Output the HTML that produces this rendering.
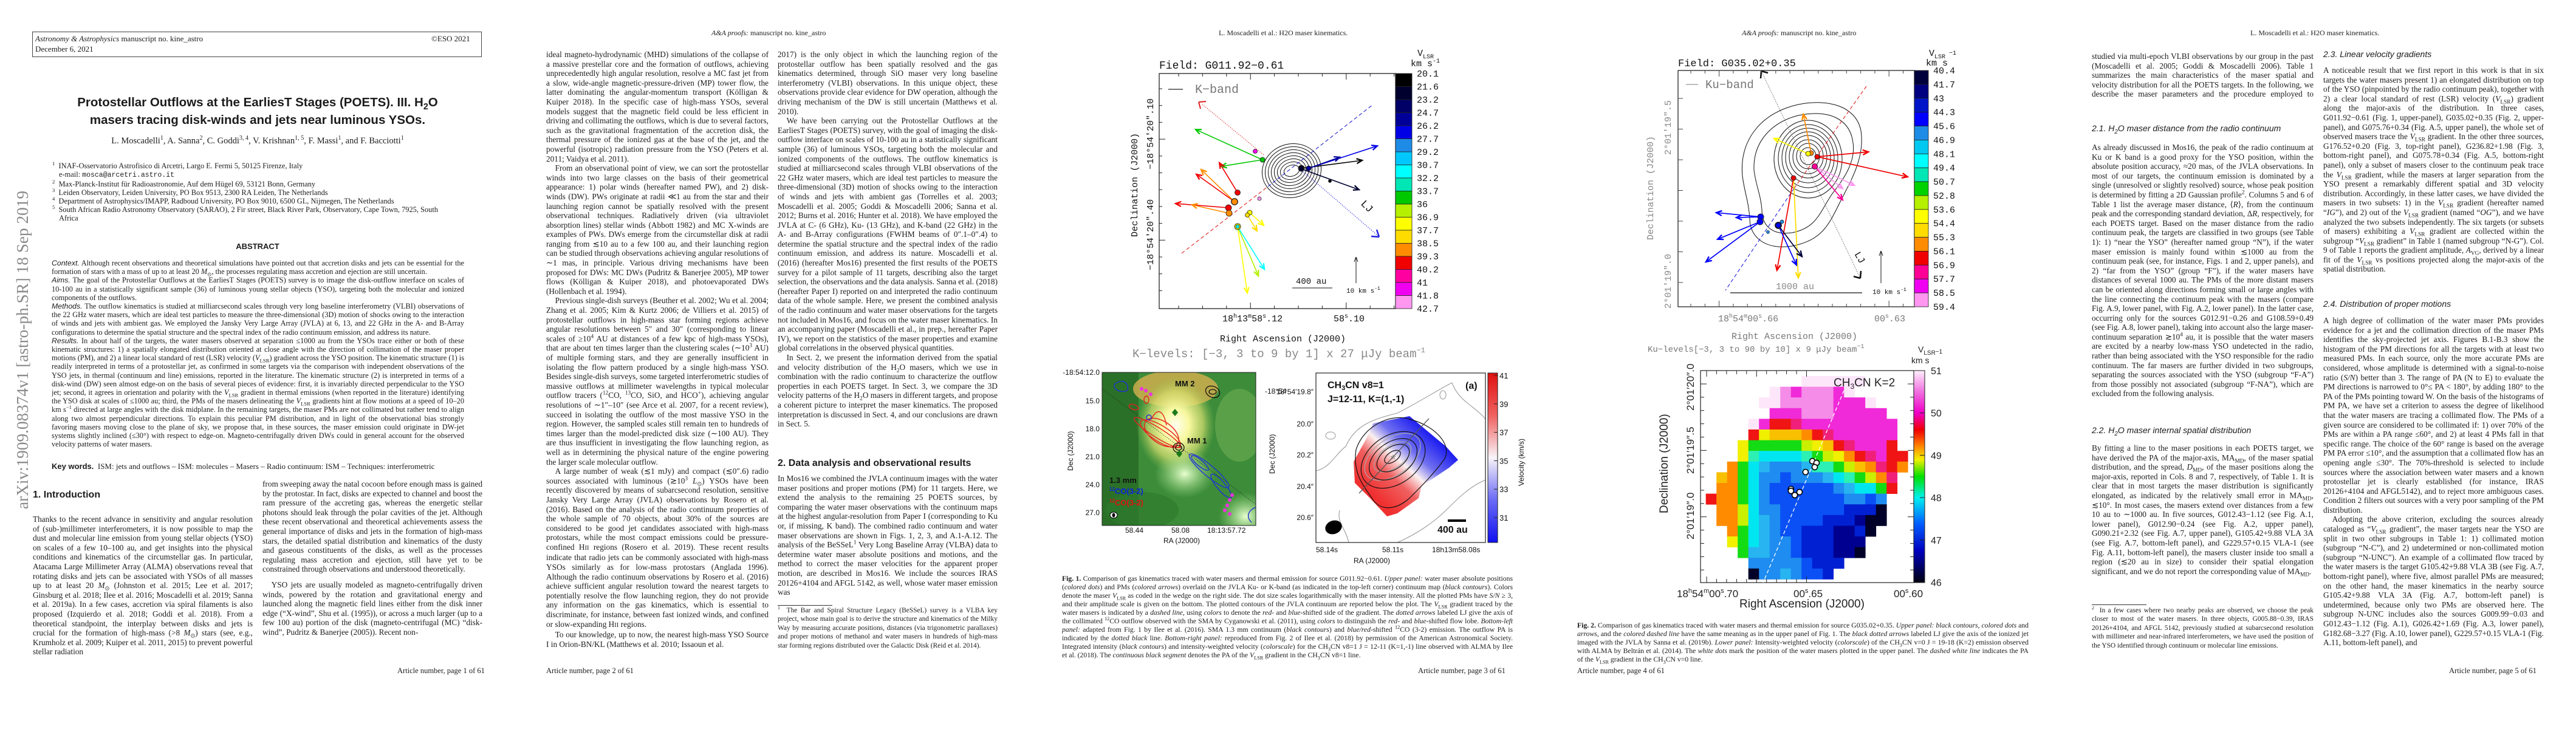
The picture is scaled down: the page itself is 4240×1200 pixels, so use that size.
<!DOCTYPE html>
<html lang="en">
<head>
<meta charset="utf-8">
<style>
html,body{margin:0;padding:0}
body{width:4240px;height:1200px;position:relative;background:#fff;overflow:hidden;color:#1c1c1c}
.t{position:absolute;font-family:"Liberation Serif",serif;font-size:13.3px;line-height:15.6px;text-align:justify;overflow:hidden;hyphens:auto;-webkit-hyphens:auto}
.t p{margin:0;text-indent:1.1em}
.t p.ni{text-indent:0}
.cap{position:absolute;font-family:"Liberation Serif",serif;font-size:11.7px;line-height:14px;text-align:justify;overflow:hidden;hyphens:auto}
.sh{position:absolute;font-family:"Liberation Sans",sans-serif;font-size:14px;font-style:italic;white-space:nowrap}
.hd{position:absolute;font-family:"Liberation Sans",sans-serif;font-weight:bold;font-size:16px;white-space:nowrap}
.run{position:absolute;font-family:"Liberation Serif",serif;font-size:12.5px;white-space:nowrap}
.pn{position:absolute;font-family:"Liberation Serif",serif;font-size:12.5px;white-space:nowrap}
.fn{position:absolute;font-family:"Liberation Serif",serif;font-size:11.4px;line-height:14.4px;text-align:justify;overflow:hidden}
.rule{position:absolute;height:1px;background:#333}
sub,sup{font-size:70%;line-height:0}
.sans{font-family:"Liberation Sans",sans-serif}
</style>
</head>
<body>

<!-- ================= PAGE 1 ================= -->
<div style="position:absolute;left:53px;top:52px;width:738px;height:40px;border:1px solid #444"></div>
<div class="run" style="left:58px;top:56px;font-size:13px"><i>Astronomy &amp; Astrophysics</i> manuscript no. kine_astro</div>
<div class="run" style="left:58px;top:73px;font-size:13px">December 6, 2021</div>
<div class="run" style="left:710px;top:56px;font-size:13px">©ESO 2021</div>

<div style="position:absolute;left:54px;top:154px;width:740px;text-align:center;font-family:'Liberation Sans',sans-serif;font-weight:bold;font-size:20.5px;line-height:29px">Protostellar Outflows at the EarliesT Stages (POETS). III. H<sub>2</sub>O<br>masers tracing disk-winds and jets near luminous YSOs.</div>
<div style="position:absolute;left:54px;top:224px;width:740px;text-align:center;font-family:'Liberation Serif',serif;font-size:14.5px">L. Moscadelli<sup>1</sup>, A. Sanna<sup>2</sup>, C. Goddi<sup>3, 4</sup>, V. Krishnan<sup>1, 5</sup>, F. Massi<sup>1</sup>, and F. Bacciotti<sup>1</sup></div>

<div style="position:absolute;left:86px;top:266px;width:680px;font-family:'Liberation Serif',serif;font-size:12.4px;line-height:14px">
<div><sup>1</sup>&nbsp; INAF-Osservatorio Astrofisico di Arcetri, Largo E. Fermi 5, 50125 Firenze, Italy</div>
<div style="padding-left:11px">e-mail: <span style="font-family:'Liberation Mono',monospace;font-size:11.5px">mosca@arcetri.astro.it</span></div>
<div><sup>2</sup>&nbsp; Max-Planck-Institut für Radioastronomie, Auf dem Hügel 69, 53121 Bonn, Germany</div>
<div><sup>3</sup>&nbsp; Leiden Observatory, Leiden University, PO Box 9513, 2300 RA Leiden, The Netherlands</div>
<div><sup>4</sup>&nbsp; Department of Astrophysics/IMAPP, Radboud University, PO Box 9010, 6500 GL, Nijmegen, The Netherlands</div>
<div style="text-align:justify"><sup>5</sup>&nbsp; South African Radio Astronomy Observatory (SARAO), 2 Fir street, Black River Park, Observatory, Cape Town, 7925, South</div>
<div style="padding-left:11px">Africa</div>
</div>

<div style="position:absolute;left:54px;top:398px;width:740px;text-align:center;font-family:'Liberation Sans',sans-serif;font-weight:bold;font-size:13px">ABSTRACT</div>
<div class="t" style="left:85px;top:426px;width:679px;height:328px;font-size:12.3px;line-height:14.2px">
<p class="ni"><i class="sans">Context.</i> Although recent observations and theoretical simulations have pointed out that accretion disks and jets can be essential for the formation of stars with a mass of up to at least 20 <i>M</i><sub>⊙</sub>, the processes regulating mass accretion and ejection are still uncertain.</p>
<p class="ni"><i class="sans">Aims.</i> The goal of the Protostellar Outflows at the EarliesT Stages (POETS) survey is to image the disk-outflow interface on scales of 10-100 au in a statistically significant sample (36) of luminous young stellar objects (YSO), targeting both the molecular and ionized components of the outflows.</p>
<p class="ni"><i class="sans">Methods.</i> The outflow kinematics is studied at milliarcsecond scales through very long baseline interferometry (VLBI) observations of the 22 GHz water masers, which are ideal test particles to measure the three-dimensional (3D) motion of shocks owing to the interaction of winds and jets with ambient gas. We employed the Jansky Very Large Array (JVLA) at 6, 13, and 22 GHz in the A- and B-Array configurations to determine the spatial structure and the spectral index of the radio continuum emission, and address its nature.</p>
<p class="ni"><i class="sans">Results.</i> In about half of the targets, the water masers observed at separation ≤1000 au from the YSOs trace either or both of these kinematic structures: 1) a spatially elongated distribution oriented at close angle with the direction of collimation of the maser proper motions (PM), and 2) a linear local standard of rest (LSR) velocity (<i>V</i><sub>LSR</sub>) gradient across the YSO position. The kinematic structure (1) is readily interpreted in terms of a protostellar jet, as confirmed in some targets via the comparison with independent observations of the YSO jets, in thermal (continuum and line) emissions, reported in the literature. The kinematic structure (2) is interpreted in terms of a disk-wind (DW) seen almost edge-on on the basis of several pieces of evidence: first, it is invariably directed perpendicular to the YSO jet; second, it agrees in orientation and polarity with the <i>V</i><sub>LSR</sub> gradient in thermal emissions (when reported in the literature) identifying the YSO disk at scales of ≤1000 au; third, the PMs of the masers delineating the <i>V</i><sub>LSR</sub> gradients hint at flow motions at a speed of 10–20 km s<sup>−1</sup> directed at large angles with the disk midplane. In the remaining targets, the maser PMs are not collimated but rather tend to align along two almost perpendicular directions. To explain this peculiar PM distribution, and in light of the observational bias strongly favoring masers moving close to the plane of sky, we propose that, in these sources, the maser emission could originate in DW-jet systems slightly inclined (≤30°) with respect to edge-on. Magneto-centrifugally driven DWs could in general account for the observed velocity patterns of water masers.</p>
</div>
<div style="position:absolute;left:85px;top:760px;font-family:'Liberation Serif',serif;font-size:13px;white-space:nowrap"><b class="sans">Key words.</b>&nbsp; ISM: jets and outflows – ISM: molecules – Masers – Radio continuum: ISM – Techniques: interferometric</div>

<div class="hd" style="left:54px;top:806px">1. Introduction</div>
<div class="t" style="left:54px;top:847px;width:362px;height:236px">
<p class="ni">Thanks to the recent advance in sensitivity and angular resolution of (sub-)millimeter interferometers, it is now possible to map the dust and molecular line emission from young stellar objects (YSO) on scales of a few 10–100 au, and get insights into the physical conditions and kinematics of the circumstellar gas. In particular, Atacama Large Millimeter Array (ALMA) observations reveal that rotating disks and jets can be associated with YSOs of all masses up to at least 20 <i>M</i><sub>⊙</sub> (Johnston et al. 2015; Lee et al. 2017; Ginsburg et al. 2018; Ilee et al. 2016; Moscadelli et al. 2019; Sanna et al. 2019a). In a few cases, accretion via spiral filaments is also proposed (Izquierdo et al. 2018; Goddi et al. 2018). From a theoretical standpoint, the interplay between disks and jets is crucial for the formation of high-mass (&gt;8 <i>M</i><sub>⊙</sub>) stars (see, e.g., Krumholz et al. 2009; Kuiper et al. 2011, 2015) to prevent powerful stellar radiation</p>
</div>
<div class="t" style="left:432px;top:789px;width:362px;height:298px">
<p class="ni">from sweeping away the natal cocoon before enough mass is gained by the protostar. In fact, disks are expected to channel and boost the ram pressure of the accreting gas, whereas the energetic stellar photons should leak through the polar cavities of the jet. Although these recent observational and theoretical achievements assess the general importance of disks and jets in the formation of high-mass stars, the detailed spatial distribution and kinematics of the dusty and gaseous constituents of the disks, as well as the processes regulating mass accretion and ejection, still have yet to be constrained through observations and understood theoretically.</p>
<p style="margin-top:10px">YSO jets are usually modeled as magneto-centrifugally driven winds, powered by the rotation and gravitational energy and launched along the magnetic field lines either from the disk inner edge (“X-wind”, Shu et al. (1995)), or across a much larger (up to a few 100 au) portion of the disk (magneto-centrifugal (MC) “disk-wind”, Pudritz &amp; Banerjee (2005)). Recent non-</p>
</div>
<div class="pn" style="left:654px;top:1097px">Article number, page 1 of 61</div>

<!-- ================= PAGE 2 ================= -->
<div class="run" style="left:1171px;top:47px;font-size:12px"><i>A&amp;A proofs:</i> manuscript no. kine_astro</div>
<div class="t" style="left:899px;top:82px;width:366px;height:1001px">
<p class="ni">ideal magneto-hydrodynamic (MHD) simulations of the collapse of a massive prestellar core and the formation of outflows, achieving unprecedentedly high angular resolution, resolve a MC fast jet from a slow, wide-angle magnetic-pressure-driven (MP) tower flow, the latter dominating the angular-momentum transport (Kölligan &amp; Kuiper 2018). In the specific case of high-mass YSOs, several models suggest that the magnetic field could be less efficient in driving and collimating the outflows, which is due to several factors, such as the gravitational fragmentation of the accretion disk, the thermal pressure of the ionized gas at the base of the jet, and the powerful (isotropic) radiation pressure from the YSO (Peters et al. 2011; Vaidya et al. 2011).</p>
<p>From an observational point of view, we can sort the protostellar winds into two large classes on the basis of their geometrical appearance: 1) polar winds (hereafter named PW), and 2) disk-winds (DW). PWs originate at radii ≪1 au from the star and their launching region cannot be spatially resolved with the present observational techniques. Radiatively driven (via ultraviolet absorption lines) stellar winds (Abbott 1982) and MC X-winds are examples of PWs. DWs emerge from the circumstellar disk at radii ranging from ≲10 au to a few 100 au, and their launching region can be studied through observations achieving angular resolutions of ∼1 mas, in principle. Various driving mechanisms have been proposed for DWs: MC DWs (Pudritz &amp; Banerjee 2005), MP tower flows (Kölligan &amp; Kuiper 2018), and photoevaporated DWs (Hollenbach et al. 1994).</p>
<p>Previous single-dish surveys (Beuther et al. 2002; Wu et al. 2004; Zhang et al. 2005; Kim &amp; Kurtz 2006; de Villiers et al. 2015) of protostellar outflows in high-mass star forming regions achieve angular resolutions between 5″ and 30″ (corresponding to linear scales of ≥10<sup>4</sup> AU at distances of a few kpc of high-mass YSOs), that are about ten times larger than the clustering scales (∼10<sup>3</sup> AU) of multiple forming stars, and they are generally insufficient in isolating the flow pattern produced by a single high-mass YSO. Besides single-dish surveys, some targeted interferometric studies of massive outflows at millimeter wavelengths in typical molecular outflow tracers (<sup>12</sup>CO, <sup>13</sup>CO, SiO, and HCO<sup>+</sup>), achieving angular resolutions of ∼1″–10″ (see Arce et al. 2007, for a recent review), succeed in isolating the outflow of the most massive YSO in the region. However, the sampled scales still remain ten to hundreds of times larger than the model-predicted disk size (∼100 AU). They are thus insufficient in investigating the flow launching region, as well as in determining the physical nature of the engine powering the larger scale molecular outflow.</p>
<p>A large number of weak (≲1 mJy) and compact (≲0″.6) radio sources associated with luminous (≳10<sup>3</sup> <i>L</i><sub>⊙</sub>) YSOs have been recently discovered by means of subarcsecond resolution, sensitive Jansky Very Large Array (JVLA) observations by Rosero et al. (2016). Based on the analysis of the radio continuum properties of the whole sample of 70 objects, about 30% of the sources are considered to be good jet candidates associated with high-mass protostars, while the most compact emissions could be pressure-confined H<span style="font-size:80%">II</span> regions (Rosero et al. 2019). These recent results indicate that radio jets can be commonly associated with high-mass YSOs similarly as for low-mass protostars (Anglada 1996). Although the radio continuum observations by Rosero et al. (2016) achieve sufficient angular resolution toward the nearest targets to potentially resolve the flow launching region, they do not provide any information on the gas kinematics, which is essential to discriminate, for instance, between fast ionized winds, and confined or slow-expanding H<span style="font-size:80%">II</span> regions.</p>
<p>To our knowledge, up to now, the nearest high-mass YSO Source I in Orion-BN/KL (Matthews et al. 2010; Issaoun et al.</p>
</div>
<div class="t" style="left:1280px;top:82px;width:362px;height:642px">
<p class="ni">2017) is the only object in which the launching region of the protostellar outflow has been spatially resolved and the gas kinematics determined, through SiO maser very long baseline interferometry (VLBI) observations. In this unique object, these observations provide clear evidence for DW operation, although the driving mechanism of the DW is still uncertain (Matthews et al. 2010).</p>
<p>We have been carrying out the Protostellar Outflows at the EarliesT Stages (POETS) survey, with the goal of imaging the disk-outflow interface on scales of 10-100 au in a statistically significant sample (36) of luminous YSOs, targeting both the molecular and ionized components of the outflows. The outflow kinematics is studied at milliarcsecond scales through VLBI observations of the 22 GHz water masers, which are ideal test particles to measure the three-dimensional (3D) motion of shocks owing to the interaction of winds and jets with ambient gas (Torrelles et al. 2003; Moscadelli et al. 2005; Goddi &amp; Moscadelli 2006; Sanna et al. 2012; Burns et al. 2016; Hunter et al. 2018). We have employed the JVLA at C- (6 GHz), Ku- (13 GHz), and K-band (22 GHz) in the A- and B-Array configurations (FWHM beams of 0″.1–0″.4) to determine the spatial structure and the spectral index of the radio continuum emission, and address its nature. Moscadelli et al. (2016) (hereafter Mos16) presented the first results of the POETS survey for a pilot sample of 11 targets, describing also the target selection, the observations and the data analysis. Sanna et al. (2018) (hereafter Paper I) reported on and interpreted the radio continuum data of the whole sample. Here, we present the combined analysis of the radio continuum and water maser observations for the targets not included in Mos16, and focus on the water maser kinematics. In an accompanying paper (Moscadelli et al., in prep., hereafter Paper IV), we report on the statistics of the maser properties and examine global correlations in the observed physical quantities.</p>
<p>In Sect. 2, we present the information derived from the spatial and velocity distribution of the H<sub>2</sub>O masers, which we use in combination with the radio continuum to characterize the outflow properties in each POETS target. In Sect. 3, we compare the 3D velocity patterns of the H<sub>2</sub>O masers in different targets, and propose a coherent picture to interpret the maser kinematics. The proposed interpretation is discussed in Sect. 4, and our conclusions are drawn in Sect. 5.</p>
</div>
<div class="hd" style="left:1280px;top:754px">2. Data analysis and observational results</div>
<div class="t" style="left:1280px;top:780px;width:362px;height:205px">
<p class="ni">In Mos16 we combined the JVLA continuum images with the water maser positions and proper motions (PM) for 11 targets. Here, we extend the analysis to the remaining 25 POETS sources, by comparing the water maser observations with the continuum maps at the highest angular-resolution from Paper I (corresponding to Ku or, if missing, K band). The combined radio continuum and water maser observations are shown in Figs. 1, 2, 3, and A.1-A.12. The analysis of the BeSSeL<sup>1</sup> Very Long Baseline Array (VLBA) data to determine water maser absolute positions and motions, and the method to correct the maser velocities for the apparent proper motion, are described in Mos16. We include the sources IRAS 20126+4104 and AFGL 5142, as well, whose water maser emission was</p>
</div>
<div class="rule" style="left:1280px;top:996px;width:90px"></div>
<div class="fn" style="left:1280px;top:998px;width:362px;height:88px"><sup>1</sup>&nbsp; The Bar and Spiral Structure Legacy (BeSSeL) survey is a VLBA key project, whose main goal is to derive the structure and kinematics of the Milky Way by measuring accurate positions, distances (via trigonometric parallaxes) and proper motions of methanol and water masers in hundreds of high-mass star forming regions distributed over the Galactic Disk (Reid et al. 2014).</div>
<div class="pn" style="left:899px;top:1097px">Article number, page 2 of 61</div>

<!-- ================= PAGE 3 ================= -->
<div class="run" style="left:2006px;top:47px;font-size:12px">L. Moscadelli et al.: H2O maser kinematics.</div>
<div class="cap" style="left:1748px;top:946px;width:742px;height:142px"><b>Fig. 1.</b> Comparison of gas kinematics traced with water masers and thermal emission for source G011.92−0.61. <i>Upper panel:</i> water maser absolute positions (<i>colored dots</i>) and PMs (<i>colored arrows</i>) overlaid on the JVLA Ku- or K-band (as indicated in the top-left corner) continuum map (<i>black contours</i>). Colors denote the maser <i>V</i><sub>LSR</sub> as coded in the wedge on the right side. The dot size scales logarithmically with the maser intensity. All the plotted PMs have <i>S/N</i> ≥ 3, and their amplitude scale is given on the bottom. The plotted contours of the JVLA continuum are reported below the plot. The <i>V</i><sub>LSR</sub> gradient traced by the water masers is indicated by a <i>dashed line</i>, using <i>colors</i> to denote the <i>red-</i> and <i>blue</i>-shifted side of the gradient. The <i>dotted arrows</i> labeled LJ give the axis of the collimated <sup>12</sup>CO outflow observed with the SMA by Cyganowski et al. (2011), using <i>colors</i> to distinguish the <i>red-</i> and <i>blue</i>-shifted flow lobe. <i>Bottom-left panel:</i> adapted from Fig. 1 by Ilee et al. (2016). SMA 1.3 mm continuum (<i>black contours</i>) and <i>blue/red</i>-shifted <sup>12</sup>CO (3-2) emission. The outflow PA is indicated by the <i>dotted black</i> line. <i>Bottom-right panel:</i> reproduced from Fig. 2 of Ilee et al. (2018) by permission of the American Astronomical Society. Integrated intensity (<i>black contours</i>) and intensity-weighted velocity (<i>colorscale</i>) for the CH<sub>3</sub>CN v8=1 J = 12-11 (K=1,-1) line observed with ALMA by Ilee et al. (2018). The <i>continuous black segment</i> denotes the PA of the <i>V</i><sub>LSR</sub> gradient in the CH<sub>3</sub>CN v8=1 line.</div>
<div class="pn" style="left:2334px;top:1097px">Article number, page 3 of 61</div>

<!-- ================= PAGE 4 ================= -->
<div class="run" style="left:2867px;top:47px;font-size:12px"><i>A&amp;A proofs:</i> manuscript no. kine_astro</div>
<div class="cap" style="left:2596px;top:1023px;width:743px;height:72px"><b>Fig. 2.</b> Comparison of gas kinematics traced with water masers and thermal emission for source G035.02+0.35. <i>Upper panel:</i> <i>black contours</i>, <i>colored dots</i> and <i>arrows</i>, and the <i>colored dashed line</i> have the same meaning as in the upper panel of Fig. 1. The <i>black dotted arrows</i> labeled LJ give the axis of the ionized jet imaged with the JVLA by Sanna et al. (2019b). <i>Lower panel:</i> Intensity-weighted velocity (<i>colorscale</i>) of the CH<sub>3</sub>CN v=0 J = 19-18 (K=2) emission observed with ALMA by Beltrán et al. (2014). The <i>white dots</i> mark the position of the water masers plotted in the upper panel. The <i>dashed white line</i> indicates the PA of the <i>V</i><sub>LSR</sub> gradient in the CH<sub>3</sub>CN v=0 line.</div>
<div class="pn" style="left:2596px;top:1097px">Article number, page 4 of 61</div>

<!-- ================= PAGE 5 ================= -->
<div class="run" style="left:3704px;top:47px;font-size:12px">L. Moscadelli et al.: H2O maser kinematics.</div>
<div class="t" style="left:3443px;top:85px;width:365px;height:80px">
<p class="ni">studied via multi-epoch VLBI observations by our group in the past (Moscadelli et al. 2005; Goddi &amp; Moscadelli 2006). Table 1 summarizes the main characteristics of the maser spatial and velocity distribution for all the POETS targets. In the following, we describe the maser parameters and the procedure employed to derive them.</p>
</div>
<div class="sh" style="left:3443px;top:203px">2.1. H<sub>2</sub>O maser distance from the radio continuum</div>
<div class="t" style="left:3443px;top:235px;width:365px;height:437px">
<p class="ni">As already discussed in Mos16, the peak of the radio continuum at Ku or K band is a good proxy for the YSO position, within the absolute position accuracy, ≈20 mas, of the JVLA observations. In most of our targets, the continuum emission is dominated by a single (unresolved or slightly resolved) source, whose peak position is determined by fitting a 2D Gaussian profile<sup>2</sup>. Columns 5 and 6 of Table 1 list the average maser distance, ⟨<i>R</i>⟩, from the continuum peak and the corresponding standard deviation, Δ<i>R</i>, respectively, for each POETS target. Based on the maser distance from the radio continuum peak, the targets are classified in two groups (see Table 1): 1) “near the YSO” (hereafter named group “N”), if the water maser emission is mainly found within ≲1000 au from the continuum peak (see, for instance, Figs. 1 and 2, upper panels), and 2) “far from the YSO” (group “F”), if the water masers have distances of several 1000 au. The PMs of the more distant masers can be oriented along directions forming small or large angles with the line connecting the continuum peak with the masers (compare Fig. A.9, lower panel, with Fig. A.2, lower panel). In the latter case, occurring only for the sources G012.91−0.26 and G108.59+0.49 (see Fig. A.8, lower panel), taking into account also the large maser-continuum separation ≳10<sup>4</sup> au, it is possible that the water masers are excited by a nearby low-mass YSO undetected in the radio, rather than being associated with the YSO responsible for the radio continuum. The far masers are further divided in two subgroups, separating the sources associated with the YSO (subgroup “F-A”) from those possibly not associated (subgroup “F-NA”), which are excluded from the following analysis.</p>
</div>
<div class="sh" style="left:3443px;top:700px">2.2. H<sub>2</sub>O maser internal spatial distribution</div>
<div class="t" style="left:3443px;top:730px;width:365px;height:251px">
<p class="ni">By fitting a line to the maser positions in each POETS target, we have derived the PA of the major-axis, MA<sub>MD</sub>, of the maser spatial distribution, and the spread, <i>D</i><sub>MD</sub>, of the maser positions along the major-axis, reported in Cols. 8 and 7, respectively, of Table 1. It is clear that in most targets the maser distribution is significantly elongated, as indicated by the relatively small error in MA<sub>MD</sub>, ≲10°. In most cases, the masers extend over distances from a few 10 au to ∼1000 au. In five sources, G012.43−1.12 (see Fig. A.1, lower panel), G012.90−0.24 (see Fig. A.2, upper panel), G090.21+2.32 (see Fig. A.7, upper panel), G105.42+9.88 VLA 3A (see Fig. A.7, bottom-left panel), and G229.57+0.15 VLA-1 (see Fig. A.11, bottom-left panel), the masers cluster inside too small a region (≲20 au in size) to consider their spatial elongation significant, and we do not report the corresponding value of MA<sub>MD</sub>.</p>
</div>
<div class="rule" style="left:3443px;top:995px;width:90px"></div>
<div class="fn" style="left:3443px;top:998px;width:365px;height:88px"><sup>2</sup>&nbsp; In a few cases where two nearby peaks are observed, we choose the peak closer to most of the water masers. In three objects, G005.88−0.39, IRAS 20126+4104, and AFGL 5142, previously studied at subarcsecond resolution with millimeter and near-infrared interferometers, we have used the position of the YSO identified through continuum or molecular line emissions.</div>
<div class="sh" style="left:3824px;top:81px">2.3. Linear velocity gradients</div>
<div class="t" style="left:3824px;top:108px;width:363px;height:359px">
<p class="ni">A noticeable result that we first report in this work is that in six targets the water masers present 1) an elongated distribution on top of the YSO (pinpointed by the radio continuum peak), together with 2) a clear local standard of rest (LSR) velocity (<i>V</i><sub>LSR</sub>) gradient along the major-axis of the distribution. In three cases, G011.92−0.61 (Fig. 1, upper-panel), G035.02+0.35 (Fig. 2, upper-panel), and G075.76+0.34 (Fig. A.5, upper panel), the whole set of observed masers trace the <i>V</i><sub>LSR</sub> gradient. In the other three sources, G176.52+0.20 (Fig. 3, top-right panel), G236.82+1.98 (Fig. 3, bottom-right panel), and G075.78+0.34 (Fig. A.5, bottom-right panel), only a subset of masers closer to the continuum peak trace the <i>V</i><sub>LSR</sub> gradient, while the masers at larger separation from the YSO present a remarkably different spatial and 3D velocity distribution. Accordingly, in these latter cases, we have divided the masers in two subsets: 1) in the <i>V</i><sub>LSR</sub> gradient (hereafter named “<i>IG</i>”), and 2) out of the <i>V</i><sub>LSR</sub> gradient (named “<i>OG</i>”), and we have analyzed the two subsets independently. The six targets (or subsets of masers) exhibiting a <i>V</i><sub>LSR</sub> gradient are collected within the subgroup “<i>V</i><sub>LSR</sub> gradient” in Table 1 (named subgroup “N-G”). Col. 9 of Table 1 reports the gradient amplitude, <i>A</i><sub>VG</sub>, derived by a linear fit of the <i>V</i><sub>LSR</sub> vs positions projected along the major-axis of the spatial distribution.</p>
</div>
<div class="sh" style="left:3824px;top:492px">2.4. Distribution of proper motions</div>
<div class="t" style="left:3824px;top:520px;width:363px;height:563px">
<p class="ni">A high degree of collimation of the water maser PMs provides evidence for a jet and the collimation direction of the maser PMs identifies the sky-projected jet axis. Figures B.1-B.3 show the histogram of the PM directions for all the targets with at least two measured PMs. In each source, only the more accurate PMs are considered, whose amplitude is determined with a signal-to-noise ratio (<i>S/N</i>) better than 3. The range of PA (N to E) to evaluate the PM directions is narrowed to 0°≤ PA &lt; 180°, by adding 180° to the PA of the PMs pointing toward W. On the basis of the histograms of PM PA, we have set a criterion to assess the degree of likelihood that the water masers are tracing a collimated flow. The PMs of a given source are considered to be collimated if: 1) over 70% of the PMs are within a PA range ≤60°, and 2) at least 4 PMs fall in that specific range. The choice of the 60° range is based on the average PM PA error ≤10°, and the assumption that a collimated flow has an opening angle ≤30°. The 70%-threshold is selected to include sources where the association between water masers and a known protostellar jet is clearly established (for instance, IRAS 20126+4104 and AFGL5142), and to reject more ambiguous cases. Condition 2 filters out sources with a very poor sampling of the PM distribution.</p>
<p>Adopting the above criterion, excluding the sources already cataloged as “<i>V</i><sub>LSR</sub> gradient”, the maser targets near the YSO are split in two other subgroups in Table 1: 1) collimated motion (subgroup “N-C”), and 2) undetermined or non-collimated motion (subgroup “N-UNC”). An example of a collimated flow traced by the water masers is the target G105.42+9.88 VLA 3B (see Fig. A.7, bottom-right panel), where five, almost parallel PMs are measured; on the other hand, the maser kinematics in the nearby source G105.42+9.88 VLA 3A (Fig. A.7, bottom-left panel) is undetermined, because only two PMs are observed here. The subgroup N-UNC includes also the sources G009.99−0.03 and G012.43−1.12 (Fig. A.1), G026.42+1.69 (Fig. A.3, lower panel), G182.68−3.27 (Fig. A.10, lower panel), G229.57+0.15 VLA-1 (Fig. A.11, bottom-left panel), and</p>
</div>
<div class="pn" style="left:4031px;top:1097px">Article number, page 5 of 61</div>

<!-- ================= FIGURES (SVG) ================= -->
<svg id="figs" width="4240" height="1200" viewBox="0 0 4240 1200" style="position:absolute;left:0;top:0" font-family="Liberation Mono, monospace">
<defs>
  <linearGradient id="velA" x1="0" y1="0" x2="0" y2="1">
    <stop offset="0" stop-color="#e01010"/><stop offset="0.25" stop-color="#f06060"/><stop offset="0.5" stop-color="#f8f4f8"/><stop offset="0.75" stop-color="#6a6af5"/><stop offset="1" stop-color="#1010f0"/>
  </linearGradient>
  <linearGradient id="velK2" x1="0" y1="0" x2="0" y2="1">
    <stop offset="0" stop-color="#fff0fc"/><stop offset="0.1" stop-color="#f070e0"/><stop offset="0.2" stop-color="#f000c8"/><stop offset="0.28" stop-color="#f00000"/><stop offset="0.36" stop-color="#ff8c00"/><stop offset="0.42" stop-color="#f0f000"/><stop offset="0.5" stop-color="#00e000"/><stop offset="0.6" stop-color="#00f0f0"/><stop offset="0.72" stop-color="#0060ff"/><stop offset="0.85" stop-color="#0000c0"/><stop offset="1" stop-color="#000010"/>
  </linearGradient>
  <linearGradient id="diamondGrad" gradientUnits="userSpaceOnUse" x1="2250" y1="805" x2="2345" y2="700">
    <stop offset="0" stop-color="#f03030"/><stop offset="0.3" stop-color="#f06060"/><stop offset="0.5" stop-color="#fbf0f0"/><stop offset="0.68" stop-color="#7070f0"/><stop offset="1" stop-color="#1515f0"/>
  </linearGradient>
  <radialGradient id="glow" cx="0.5" cy="0.5" r="0.5">
    <stop offset="0" stop-color="#fffff0"/><stop offset="0.35" stop-color="#f8f8a0"/><stop offset="0.7" stop-color="#d8e070" stop-opacity="0.7"/><stop offset="1" stop-color="#90c050" stop-opacity="0"/>
  </radialGradient>
  <radialGradient id="glow2" cx="0.5" cy="0.5" r="0.5">
    <stop offset="0" stop-color="#e8ffd0"/><stop offset="1" stop-color="#a0e080" stop-opacity="0"/>
  </radialGradient>
  <clipPath id="clipMM"><rect x="1814" y="613" width="253" height="252"/></clipPath>
  <clipPath id="clipA"><rect x="2166" y="614" width="279" height="279"/></clipPath>
</defs>

<!-- arXiv stamp -->
<text x="0" y="0" transform="translate(46,838) rotate(-90)" font-family="Liberation Serif, serif" font-size="27" fill="#8a8a8a" textLength="524" lengthAdjust="spacingAndGlyphs">arXiv:1909.08374v1  [astro-ph.SR]  18 Sep 2019</text>

<!-- Fig.1 upper static -->
<g>
  <text x="1908" y="113" font-size="18" fill="#111">Field: G011.92−0.61</text>
  <rect x="1908" y="121" width="389" height="387" fill="none" stroke="#222" stroke-width="1.3"/>
  <line x1="1923" y1="147" x2="1947" y2="147" stroke="#222" stroke-width="1.2"/>
  <text x="1967" y="153" font-size="20" fill="#777">K−band</text>
  <g fill="none" stroke="#111" stroke-width="1">
    <ellipse cx="2126" cy="281" rx="49" ry="44" transform="rotate(-18 2126 281)"/>
    <ellipse cx="2126" cy="281" rx="44" ry="39" transform="rotate(-18 2126 281)"/>
    <ellipse cx="2126" cy="281" rx="39" ry="34" transform="rotate(-18 2126 281)"/>
    <ellipse cx="2126" cy="281" rx="34" ry="29" transform="rotate(-18 2126 281)"/>
    <ellipse cx="2126" cy="281" rx="29" ry="24" transform="rotate(-18 2126 281)"/>
    <ellipse cx="2126" cy="281" rx="24" ry="19" transform="rotate(-18 2126 281)"/>
    <ellipse cx="2126" cy="281" rx="19" ry="14" transform="rotate(-18 2126 281)"/>
    <ellipse cx="2126" cy="281" rx="13" ry="9" transform="rotate(-18 2126 281)"/>
  </g>
  <line x1="1945" y1="417" x2="2087" y2="307" stroke="#e02020" stroke-width="1.1" stroke-dasharray="6,4"/>
  <line x1="2087" y1="307" x2="2260" y2="172" stroke="#2020d0" stroke-width="1.1" stroke-dasharray="6,4"/>
  <line x1="2080" y1="255" x2="1978" y2="171" stroke="#e02020" stroke-width="1" stroke-dasharray="1.5,2"/>
  <path d="M1973,168 l12,-1 M1973,168 l3,11" stroke="#e02020" stroke-width="2" fill="none"/>
  <line x1="2140" y1="278" x2="2268" y2="388" stroke="#2020e0" stroke-width="1" stroke-dasharray="1.5,2"/>
  <path d="M2270,390 l-13,-1 M2270,390 l-4,-12" stroke="#2020e0" stroke-width="2.4" fill="none"/>
  <text x="0" y="0" transform="translate(2239,336) rotate(45)" font-size="17" fill="#111">LJ</text>
  <text x="2133" y="467" font-size="14" fill="#111">400 au</text>
  <line x1="2127" y1="474" x2="2193" y2="474" stroke="#111" stroke-width="1"/>
  <line x1="2232" y1="466" x2="2232" y2="424" stroke="#111" stroke-width="1"/>
  <path d="M2232,423 l-3,8 M2232,423 l3,8" stroke="#111" stroke-width="1"/>
  <text x="2216" y="482" font-size="11" fill="#111">10 km s<tspan dy="-5" font-size="8">-1</tspan></text>
  <text x="2012" y="529" font-size="15" fill="#111">18<tspan dy="-6" font-size="10">h</tspan><tspan dy="6">13</tspan><tspan dy="-6" font-size="10">m</tspan><tspan dy="6">58</tspan><tspan dy="-6" font-size="10">s</tspan><tspan dy="6">.12</tspan></text>
  <text x="2195" y="529" font-size="15" fill="#111">58<tspan dy="-6" font-size="10">s</tspan><tspan dy="6">.10</tspan></text>
  <text x="2008" y="562" font-size="15" fill="#111">Right Ascension (J2000)</text>
  <text x="1864" y="588" font-size="19" fill="#888">K−levels: [−3, 3 to 9 by 1]  x 27 μJy beam<tspan dy="-8" font-size="12">−1</tspan></text>
  <text x="0" y="0" transform="translate(1898,279) rotate(-90)" font-size="15" fill="#111">−18°54′20″.10</text>
  <text x="0" y="0" transform="translate(1898,445) rotate(-90)" font-size="15" fill="#111">−18°54′20″.40</text>
  <text x="0" y="0" transform="translate(1872,390) rotate(-90)" font-size="15" fill="#111">Declination (J2000)</text>
  <text x="2333" y="92" font-size="15" fill="#111">V<tspan dy="4" font-size="10">LSR</tspan></text>
  <text x="2322" y="109" font-size="15" fill="#111">km s<tspan dy="-6" font-size="10">-1</tspan></text>
</g>

<!-- Fig.2 upper static -->
<g>
  <text x="2762" y="109" font-size="17" fill="#111">Field: G035.02+0.35</text>
  <rect x="2762" y="116" width="389" height="389" fill="none" stroke="#222" stroke-width="1.3"/>
  <line x1="2775" y1="139" x2="2795" y2="139" stroke="#999" stroke-width="1.2"/>
  <text x="2807" y="145" font-size="19" fill="#777">Ku−band</text>
  <g fill="none" stroke="#111" stroke-width="1">
    <path d="M2868,290 C2862,230 2900,185 2960,172 C3010,162 3055,175 3063,215 C3070,260 3045,300 3030,330 C3010,370 3000,395 2950,405 C2905,412 2880,390 2880,360 C2878,330 2872,320 2868,290 Z"/>
    <path d="M2887,280 C2885,230 2920,200 2960,190 C3010,180 3045,195 3050,235 C3055,270 3030,300 3015,320 C2995,350 2990,375 2950,383 C2915,388 2900,370 2900,345 C2898,320 2890,305 2887,280 Z"/>
    <ellipse cx="2976" cy="262" rx="56" ry="64"/>
    <ellipse cx="2976" cy="261" rx="49" ry="56"/>
    <ellipse cx="2976" cy="260" rx="43" ry="49"/>
    <ellipse cx="2976" cy="259" rx="37" ry="42"/>
    <ellipse cx="2976" cy="258" rx="31" ry="35"/>
    <ellipse cx="2976" cy="258" rx="25" ry="28"/>
    <ellipse cx="2976" cy="257" rx="19" ry="21"/>
    <ellipse cx="2976" cy="257" rx="13" ry="14"/>
  </g>
  <line x1="3072" y1="142" x2="2953" y2="310" stroke="#e02020" stroke-width="1.1" stroke-dasharray="6,4"/>
  <line x1="2953" y1="310" x2="2840" y2="478" stroke="#2020e0" stroke-width="1.1" stroke-dasharray="6,4"/>
  <line x1="2899" y1="117" x2="3062" y2="458" stroke="#333" stroke-width="0.9" stroke-dasharray="1.2,2"/>
  <path d="M2899,117 l11,3 M2899,117 l-1,12" stroke="#111" stroke-width="2.5" fill="none"/>
  <path d="M3062,458 l-11,-3 M3062,458 l1,-12" stroke="#111" stroke-width="2.5" fill="none"/>
  <text x="0" y="0" transform="translate(3052,418) rotate(60)" font-size="16" fill="#111">LJ</text>
  <text x="2923" y="476" font-size="15" fill="#888">1000 au</text>
  <line x1="2848" y1="482" x2="3065" y2="482" stroke="#111" stroke-width="1.2"/>
  <line x1="3096" y1="466" x2="3096" y2="414" stroke="#111" stroke-width="1"/>
  <path d="M3096,413 l-3,8 M3096,413 l3,8" stroke="#111" stroke-width="1"/>
  <text x="3082" y="484" font-size="11" fill="#111">10 km s<tspan dy="-5" font-size="8">-1</tspan></text>
  <text x="2828" y="529" font-size="15" fill="#777">18<tspan dy="-6" font-size="10">h</tspan><tspan dy="6">54</tspan><tspan dy="-6" font-size="10">m</tspan><tspan dy="6">00</tspan><tspan dy="-6" font-size="10">s</tspan><tspan dy="6">.66</tspan></text>
  <text x="3085" y="529" font-size="15" fill="#777">00<tspan dy="-6" font-size="10">s</tspan><tspan dy="6">.63</tspan></text>
  <text x="2850" y="558" font-size="15" fill="#777">Right Ascension (J2000)</text>
  <text x="2712" y="579" font-size="14" fill="#777">Ku−levels[−3, 3 to 90 by 10] x 9 μJy beam<tspan dy="-6" font-size="10">−1</tspan></text>
  <text x="0" y="0" transform="translate(2750,255) rotate(-90)" font-size="15" fill="#888">2°01′19″.5</text>
  <text x="0" y="0" transform="translate(2750,508) rotate(-90)" font-size="15" fill="#888">2°01′19″.0</text>
  <text x="0" y="0" transform="translate(2721,395) rotate(-90)" font-size="15" fill="#888">Declination (J2000)</text>
  <text x="3175" y="92" font-size="15" fill="#111">V<tspan dy="4" font-size="10">LSR</tspan><tspan dy="-6" font-size="10"> −1</tspan></text>
  <text x="3170" y="108" font-size="15" fill="#111">km s</text>
</g>

<!-- Fig.1 bottom-left (SMA/ALMA) -->
<g>
  <g clip-path="url(#clipMM)">
    <rect x="1814" y="613" width="253" height="252" fill="#3c8c3a"/>
    <rect x="1814" y="613" width="60" height="252" fill="#2a7028"/>
    <ellipse cx="2040" cy="700" rx="40" ry="60" fill="#5aa048"/>
    <ellipse cx="1935" cy="640" rx="70" ry="30" fill="#d8b050" opacity="0.8"/>
    <ellipse cx="1935" cy="700" rx="65" ry="80" fill="url(#glow)"/>
    <ellipse cx="1950" cy="780" rx="50" ry="40" fill="url(#glow2)"/>
    <ellipse cx="2050" cy="850" rx="45" ry="40" fill="url(#glow2)"/>
    <ellipse cx="1880" cy="840" rx="60" ry="30" fill="#2e7a2c" opacity="0.7"/>
    <line x1="1814" y1="640" x2="2067" y2="830" stroke="#222" stroke-width="0.8" stroke-dasharray="1.5,2"/>
    <g fill="none" stroke="#e82020" stroke-width="1.4">
      <ellipse cx="1905" cy="712" rx="45" ry="8" transform="rotate(32 1905 712)"/>
      <ellipse cx="1910" cy="714" rx="38" ry="13" transform="rotate(32 1910 714)"/>
      <ellipse cx="1912" cy="712" rx="32" ry="18" transform="rotate(35 1912 712)"/>
      <path d="M1895,690 C1905,670 1915,675 1920,700"/>
      <ellipse cx="1866" cy="670" rx="8" ry="4" transform="rotate(20 1866 670)"/>
      <ellipse cx="1887" cy="658" rx="4" ry="6"/>
    </g>
    <g fill="none" stroke="#2030d8" stroke-width="1.4">
      <ellipse cx="1990" cy="775" rx="42" ry="9" transform="rotate(40 1990 775)"/>
      <ellipse cx="1975" cy="762" rx="18" ry="5" transform="rotate(40 1975 762)"/>
      <ellipse cx="2010" cy="800" rx="25" ry="7" transform="rotate(50 2010 800)"/>
      <path d="M1835,632 C1850,620 1860,635 1855,643 C1845,648 1830,640 1835,632 Z"/>
      <path d="M2067,835 C2055,840 2050,850 2060,860"/>
      <ellipse cx="1891" cy="687" rx="4" ry="4"/>
    </g>
    <g fill="none" stroke="#111" stroke-width="1.3">
      <ellipse cx="1940" cy="737" rx="9" ry="8"/><ellipse cx="1940" cy="737" rx="5" ry="4"/>
      <ellipse cx="1996" cy="645" rx="12" ry="9" transform="rotate(25 1996 645)"/><ellipse cx="1996" cy="645" rx="6" ry="4"/>
    </g>
    <g fill="#f030e0">
      <circle cx="1879" cy="640" r="3"/><circle cx="1886" cy="643" r="3"/><circle cx="1894" cy="649" r="3"/>
      <circle cx="2028" cy="815" r="3"/><circle cx="2024" cy="823" r="3"/><circle cx="2020" cy="832" r="3"/><circle cx="2016" cy="840" r="3"/><circle cx="2024" cy="846" r="3"/>
    </g>
    <path d="M1934,673 l5,6 l-5,6 l-5,-6 Z" fill="#1a7a1a"/>
    <path d="M1941,741 l5,6 l-5,6 l-5,-6 Z" fill="#1a7a1a"/>
    <ellipse cx="1833" cy="848" rx="6" ry="5" fill="#fff" stroke="#000" stroke-width="1"/>
    <ellipse cx="1833" cy="848" rx="2.5" ry="3.5" fill="#000"/>
  </g>
  <rect x="1814" y="613" width="253" height="252" fill="none" stroke="#222" stroke-width="1"/>
  <g font-family="Liberation Sans, sans-serif" font-weight="bold" font-size="13">
    <text x="1934" y="636" fill="#111">MM 2</text>
    <text x="1954" y="730" fill="#111">MM 1</text>
    <text x="1826" y="795" fill="#111">1.3 mm</text>
    <text x="1826" y="813" fill="#1020e0"><tspan font-size="8" dy="-5">12</tspan><tspan dy="5">CO(3-2)</tspan></text>
    <text x="1826" y="832" fill="#e01010"><tspan font-size="8" dy="-5">12</tspan><tspan dy="5">CO(3-2)</tspan></text>
  </g>
  <g font-family="Liberation Sans, sans-serif" font-size="12" fill="#111">
    <text x="1852" y="877">58.44</text><text x="1928" y="877">58.08</text><text x="1987" y="877">18:13:57.72</text>
    <text x="1915" y="894">RA (J2000)</text>
    <text x="1810" y="617" text-anchor="end">-18:54:12.0</text>
    <text x="1810" y="664" text-anchor="end">15.0</text>
    <text x="1810" y="710" text-anchor="end">18.0</text>
    <text x="1810" y="756" text-anchor="end">21.0</text>
    <text x="1810" y="802" text-anchor="end">24.0</text>
    <text x="1810" y="848" text-anchor="end">27.0</text>
    <text x="0" y="0" transform="translate(1766,775) rotate(-90)">Dec (J2000)</text>
    <text x="2082" y="648">-18°54</text>
    <text x="0" y="0" transform="translate(2098,780) rotate(-90)">Dec (J2000)</text>
  </g>
</g>

<!-- Fig.1 bottom-right (CH3CN v8=1) -->
<g>
  <g clip-path="url(#clipA)">
    <path d="M2166,775 C2190,770 2200,745 2215,735 C2230,700 2260,690 2300,680 C2330,665 2370,640 2390,630 C2400,660 2430,670 2445,690 M2166,760 M2445,790 C2420,800 2400,820 2380,840 C2360,860 2330,880 2300,893 M2220,893 C2215,870 2200,860 2205,840" fill="none" stroke="#9a9a9a" stroke-width="1.1"/>
    <ellipse cx="2190" cy="717" rx="8" ry="6" fill="none" stroke="#9a9a9a"/>
    <ellipse cx="2375" cy="650" rx="5" ry="7" fill="none" stroke="#9a9a9a"/>
    <path d="M2260,697 L2320,685 L2380,735 L2400,757 L2385,770 L2340,800 L2335,820 L2300,845 L2283,850 L2255,820 L2230,795 L2228,760 L2250,720 Z" fill="url(#diamondGrad)"/>
    <g fill="none" stroke="#a8a8a8" stroke-width="1.2">
      <ellipse cx="2292" cy="752" rx="52" ry="30" transform="rotate(-35 2292 752)"/>
      <ellipse cx="2292" cy="752" rx="35" ry="18" transform="rotate(-35 2292 752)"/>
    </g>
    <g fill="none" stroke="#111" stroke-width="1.2">
      <path d="M2232,740 C2245,700 2290,680 2320,690 C2360,700 2390,730 2378,755 C2360,780 2340,800 2320,820 C2295,842 2270,840 2258,820 C2245,800 2226,780 2232,740 Z"/>
      <ellipse cx="2293" cy="757" rx="58" ry="40" transform="rotate(-35 2293 757)"/>
      <ellipse cx="2293" cy="756" rx="44" ry="28" transform="rotate(-35 2293 756)"/>
      <ellipse cx="2293" cy="754" rx="30" ry="18" transform="rotate(-35 2293 754)"/>
      <ellipse cx="2292" cy="752" rx="15" ry="8" transform="rotate(-35 2292 752)"/>
    </g>
    <line x1="2237" y1="812" x2="2352" y2="689" stroke="#555" stroke-width="1.3"/>
    <text x="2293" y="756" font-family="DejaVu Sans, sans-serif" font-size="11" text-anchor="middle" fill="#111">☆</text>
    <ellipse cx="2195" cy="868" rx="14" ry="11" transform="rotate(-20 2195 868)" fill="#000"/>
    <rect x="2383" y="855" width="30" height="4" fill="#000"/>
  </g>
  <rect x="2166" y="614" width="279" height="279" fill="none" stroke="#222" stroke-width="1.2"/>
  <g font-family="Liberation Sans, sans-serif" font-weight="bold" fill="#111">
    <text x="2185" y="639" font-size="16">CH<tspan font-size="11" dy="3">3</tspan><tspan dy="-3">CN v8=1</tspan></text>
    <text x="2185" y="662" font-size="16">J=12-11, K=(1,-1)</text>
    <text x="2412" y="640" font-size="16">(a)</text>
    <text x="2366" y="877" font-size="16">400 au</text>
  </g>
  <rect x="2449" y="614" width="16" height="279" fill="url(#velA)" stroke="#222" stroke-width="1"/>
  <g font-family="Liberation Sans, sans-serif" font-size="12" fill="#111">
    <text x="2162" y="649" text-anchor="end">18°54′19.8″</text>
    <text x="2162" y="702" text-anchor="end">20.0″</text>
    <text x="2162" y="753" text-anchor="end">20.2″</text>
    <text x="2162" y="805" text-anchor="end">20.4″</text>
    <text x="2162" y="856" text-anchor="end">20.6″</text>
    <text x="2166" y="909">58.14s</text><text x="2275" y="909">58.11s</text><text x="2357" y="909">18h13m58.08s</text>
    <text x="2228" y="927">RA (J2000)</text>
    <text x="0" y="0" transform="translate(2508,800) rotate(-90)">Velocity (km/s)</text>
  </g>
</g>

<!-- Fig.2 lower (CH3CN K=2) -->
<g>
  <g id="k2cells"></g>
  <rect x="2799" y="610" width="351" height="349" fill="none" stroke="#222" stroke-width="1.2"/>
  <text x="3018" y="636" font-family="Liberation Sans, sans-serif" font-size="19" fill="#222">CH<tspan font-size="12" dy="4">3</tspan><tspan dy="-4">CN  K=2</tspan></text>
  <rect x="3150" y="610" width="18" height="349" fill="url(#velK2)" stroke="#222" stroke-width="1"/>
  <g font-family="Liberation Sans, sans-serif" font-size="17" fill="#222">
    <text x="2760" y="983">18<tspan dy="-7" font-size="11">h</tspan><tspan dy="7">54</tspan><tspan dy="-7" font-size="11">m</tspan><tspan dy="7">00</tspan><tspan dy="-7" font-size="11">s</tspan><tspan dy="7">.70</tspan></text>
    <text x="2952" y="983">00<tspan dy="-7" font-size="11">s</tspan><tspan dy="7">.65</tspan></text>
    <text x="3117" y="983">00<tspan dy="-7" font-size="11">s</tspan><tspan dy="7">.60</tspan></text>
    <text x="2863" y="1000" font-size="19">Right Ascension (J2000)</text>
    <text x="0" y="0" transform="translate(2788,676) rotate(-90)">2°01′20″.0</text>
    <text x="0" y="0" transform="translate(2788,780) rotate(-90)">2°01′19″.5</text>
    <text x="0" y="0" transform="translate(2788,888) rotate(-90)">2°01′19″.0</text>
    <text x="0" y="0" transform="translate(2745,845) rotate(-90)" font-size="19">Declination (J2000)</text>
  </g>
  <text x="3157" y="580" font-family="Liberation Sans, sans-serif" font-size="14" fill="#222">V<tspan dy="4" font-size="10">LSR</tspan><tspan dy="-2" font-size="10">−1</tspan></text>
  <text x="3146" y="598" font-family="Liberation Sans, sans-serif" font-size="14" fill="#222">km  s</text>
</g>
</svg>

<script>
// ---------- data arrays ----------
const fig1VelTicks = [20.1,21.6,23.2,24.7,26.2,27.7,29.2,30.7,32.2,33.7,36,36.9,37.7,38.5,39.3,40.2,41,41.8,42.7];
const fig2VelTicks = [40.4,41.7,43,44.3,45.6,46.9,48.1,49.4,50.7,52.8,53.6,54.4,55.3,56.1,56.9,57.7,58.5,59.4];
const ch3cnVelTicks = [41,39,37,35,33,31];
const k2VelTicks = [51,50,49,48,47,46];

// Fig.1 masers: offsets from continuum peak (mas), VLSR (km/s), PM east/north (km/s)
const fig1Ra  = [-5,-35,-35,-5,-122.5,155,155,185,257.5,270,270,295,292.5,207.5,217.5,257.5,257.5,257.5,167.5];
const fig1Dec = [2.5,2.5,2.5,0,-50,37.5,37.5,72.5,-97.5,-135,-135,-160,-182.5,-180,-190,-237.5,-237.5,-237.5,-122.5];
const fig1Vel = [20.5,26.8,25.5,22.5,20.5,35,35,41.4,39.8,39.8,39.0,39.8,39.0,37.2,38.0,36.5,37.2,31.5,42.2];
const fig1PmE = [-23.1,-26.1,-11.8,-21.9,0,25.4,15.7,0,6.9,14.5,12.7,20.1,14.1,-5.3,-3.7,-7.9,-3.7,-10.2,0];
const fig1PmN = [3.0,8.5,4.2,-7.9,0,11.5,-2.5,0,11.3,10.4,12.2,1.6,3.2,-4.8,-6.0,-18.7,-25.2,-16.2,0];
const fig1Size = [5,4,4,4,2.5,4,4,3.5,4.5,5.5,5,5,5,4,3.5,5,5,3,3];

// Fig.2 masers
const fig2Ra  = [-10,2.5,-35,-35,-25,-25,-25,62.5,62.5,197.5,197.5,200,200,125,125,110,167.5];
const fig2Dec = [12.5,10,-2.5,-2.5,-42.5,-42.5,-42.5,-90,-90,-250,-250,-270,-270,-285,-285,-270,-312.5];
const fig2Vel = [55.7,54.0,56.5,56.5,59.0,58.8,57.3,54.8,56.5,44.8,44.8,44.8,44.8,41.0,44.8,46.0,46.0];
const fig2PmE = [2.4,10.5,-15.8,-27.9,-12.2,-8.6,-8.6,-1.5,5.1,13.7,7.5,13.1,16.7,-7.3,-5.6,0,0];
const fig2PmN = [12.0,4.7,1.5,-6.2,-5.8,-6.8,-10.3,-30.8,-28.5,1.3,-0.2,-5.4,-12.4,-9.6,-12.2,0,0];
const fig2Size = [4,4,4,4,4.5,4.5,4.5,4,4,5,5,5,5,5.5,4,3,2.5];

// Fig.2 lower: CH3CN K=2 velocity map (letters = velocity class) and water maser positions
const k2Rows = [
".........WWWWWW....",
"......WPMPPPMW.....",
".....WWPPPPPMMMW...",
"......MMMPPPMMMMM..",
"....WMRRHMMMMMMMMM.",
"....RYAAAORHMMMMMM.",
"...YGGGGGXYARHMMMR.",
"...YQCCCCQGXYORHMRR",
"..OGCSLLLSQQGXAOHRO",
".AOGCLLBLLLSCQGXOH.",
".OOGCLBBBBBBLSCCGR.",
"ROOGCLBBBBBBBLLBL..",
".OOXCLLBBBBBBNNNK..",
".OOXCSLBBBBNNNDKK..",
"..OGCSLBBNNNDDNK...",
"..YGCSLLBNNNDDD....",
"...GSSLLBNNNDDK....",
"....LLLLLBNNN......",
"....KLLSLBBN......."
];
const k2DotRa  = [0.6471,0.6450,0.6459,0.6505,0.6578,0.6578,0.6559,0.6535];
const k2DotDec = [19.419,19.406,19.374,19.337,19.209,19.195,19.163,19.186];

// ---------- styles (not data) ----------
const fig1Colors = ["#000000","#00002e","#000066","#000099","#0000e6","#1e8ce6","#00c8ff","#00ffff","#00e6b4","#00c800","#b4f000","#ffff00","#ffdc00","#ff8c00","#f00000","#ff00a0","#f000f0","#ff96f0"];
const fig2Colors = ["#00003c","#000080","#0014c8","#0000ff","#1e8ce6","#00c8f0","#00ffff","#00e6b4","#00d200","#b4f000","#ffff00","#ffdc00","#ff8c00","#f00000","#ff0096","#f000f0","#ff96f0"];
const k2Palette = {W:"#fde6fa",P:"#f58ce8",M:"#f02ad8",H:"#f0207a",R:"#f01414",O:"#ff8c00",A:"#f8c000",Y:"#f0f000",X:"#c8f000",G:"#14dc14",Q:"#2cf0b4",C:"#00e6f0",S:"#28b4f0",L:"#1e8cf0",B:"#0a50f5",N:"#0020d2",D:"#000090",K:"#000028"};

const NS = "http://www.w3.org/2000/svg";
const svg = document.getElementById("figs");
function mk(tag, attrs, parent){
  const e = document.createElementNS(NS, tag);
  for (const k in attrs) e.setAttribute(k, attrs[k]);
  (parent || svg).appendChild(e);
  return e;
}
function cellIndex(ticks, v){
  let i = 0;
  for (let k = 0; k < ticks.length - 1; k++) if (v >= ticks[k]) i = k;
  return i;
}
function arrow(x0,y0,x1,y1,color,w,name){
  const g = mk("g",{});
  
  
  mk("line",{x1:x0,y1:y0,x2:x1,y2:y1,stroke:color,"stroke-width":w},g);
  const a = Math.atan2(y1-y0,x1-x0), L = 10, s = 0.42;
  const p = "M"+(x1-L*Math.cos(a-s))+","+(y1-L*Math.sin(a-s))+" L"+x1+","+y1+" L"+(x1-L*Math.cos(a+s))+","+(y1-L*Math.sin(a+s));
  mk("path",{d:p,fill:"none",stroke:color,"stroke-width":w+0.6},g);
  return g;
}

// ---------- Fig.1 upper ----------
(function(){
  const box = {x:1908,y:121,w:389,h:387};
  const cx = 2140, cy = 278, masPerPx = 2.5, pxPerKms = 4.33;
  const xs = ra => cx - ra / masPerPx;
  const ys = dec => cy - dec / masPerPx;
  // ticks
  for (let i = 0; i < 10; i++) {
    const x = 1940 + i * 39.4; if (x > box.x + box.w - 2) break;
    const L = (i === 3 || i === 7) ? 10 : 5;
    const t1 = mk("line",{x1:x,y1:box.y,x2:x,y2:box.y+L,stroke:"#222","stroke-width":1});
    
    
    const t2 = mk("line",{x1:x,y1:box.y+box.h,x2:x,y2:box.y+box.h-L,stroke:"#222","stroke-width":1});
    
    
  }
  for (let i = 0; i < 14; i++) {
    const y = 146 + i * 27.7; if (y > box.y + box.h - 2) break;
    const L = (i === 3 || i === 9) ? 10 : 5;
    const t = mk("line",{x1:box.x,y1:y,x2:box.x+L,y2:y,stroke:"#222","stroke-width":1});
    
    
  }
  // colorbar
  const cbTop = 121, cbBot = 508, n = fig1VelTicks.length - 1, step = (cbBot - cbTop) / n;
  for (let i = 0; i < n; i++) {
    const r = mk("rect",{x:2297,y:cbTop+i*step,width:27,height:step,fill:fig1Colors[i],stroke:"#222","stroke-width":0.8});
    
    
  }
  fig1VelTicks.forEach((v,i) => {
    const t = mk("text",{x:2332,y:cbTop+i*step+5,"font-size":15,fill:"#111"});
    t.textContent = String(v);
    
    
  });
  // PM arrows then dots
  fig1Ra.forEach((ra,i) => {
    if (fig1PmE[i] === 0 && fig1PmN[i] === 0) return;
    const x0 = xs(ra), y0 = ys(fig1Dec[i]);
    const col = fig1Colors[cellIndex(fig1VelTicks, fig1Vel[i])];
    arrow(x0, y0, x0 - fig1PmE[i]*pxPerKms, y0 - fig1PmN[i]*pxPerKms, col, 1.6, 'fig1-maser-pm-arrow');
  });
  fig1Ra.forEach((ra,i) => {
    const c = mk("circle",{cx:xs(ra),cy:ys(fig1Dec[i]),r:fig1Size[i],fill:fig1Colors[cellIndex(fig1VelTicks, fig1Vel[i])],stroke:"#222","stroke-width":0.8});
    
    
  });
})();

// ---------- Fig.2 upper ----------
(function(){
  const box = {x:2762,y:116,w:389,h:389};
  const cx = 2977, cy = 257, masPerPx = 2.5, pxPerKms = 5.33;
  const xs = ra => cx - ra / masPerPx;
  const ys = dec => cy - dec / masPerPx;
  for (let i = 0; i < 17; i++) {
    const x = 2783 + i * 23.3; if (x > box.x + box.w - 2) break;
    const L = (i === 2 || i === 14) ? 10 : 5;
    const t1 = mk("line",{x1:x,y1:box.y,x2:x,y2:box.y+L,stroke:"#444","stroke-width":1});
    
    
    const t2 = mk("line",{x1:x,y1:box.y+box.h,x2:x,y2:box.y+box.h-L,stroke:"#444","stroke-width":1});
    
    
  }
  for (let i = 0; i < 8; i++) {
    const y = 162 + i * 50.5; if (y > box.y + box.h - 2) break;
    const t = mk("line",{x1:box.x,y1:y,x2:box.x+8,y2:y,stroke:"#444","stroke-width":1});
    
    
  }
  const cbTop = 116, cbBot = 505, n = fig2VelTicks.length - 1, step = (cbBot - cbTop) / n;
  for (let i = 0; i < n; i++) {
    const r = mk("rect",{x:3151,y:cbTop+i*step,width:23,height:step,fill:fig2Colors[i],stroke:"#222","stroke-width":0.8});
    
    
  }
  fig2VelTicks.forEach((v,i) => {
    const t = mk("text",{x:3182,y:cbTop+i*step+5,"font-size":15,fill:"#111"});
    t.textContent = String(v);
    
    
  });
  fig2Ra.forEach((ra,i) => {
    if (fig2PmE[i] === 0 && fig2PmN[i] === 0) return;
    const x0 = xs(ra), y0 = ys(fig2Dec[i]);
    const col = fig2Colors[cellIndex(fig2VelTicks, fig2Vel[i])];
    arrow(x0, y0, x0 - fig2PmE[i]*pxPerKms, y0 - fig2PmN[i]*pxPerKms, col, 1.7, 'fig2-maser-pm-arrow');
  });
  fig2Ra.forEach((ra,i) => {
    const c = mk("circle",{cx:xs(ra),cy:ys(fig2Dec[i]),r:fig2Size[i],fill:fig2Colors[cellIndex(fig2VelTicks, fig2Vel[i])],stroke:"#222","stroke-width":0.8});
    
    
  });
})();

// ---------- Fig.2 lower: K=2 heatmap ----------
(function(){
  const g = document.getElementById("k2cells");
  const x0 = 2807.7, y0 = 619, cw = 17.5, ch = 17.6;
  k2Rows.forEach((row, r) => {
    for (let c = 0; c < row.length; c++) {
      const k = row[c];
      if (k === ".") continue;
      const rect = mk("rect",{x:x0+c*cw,y:y0+r*ch,width:cw+0.4,height:ch+0.4,fill:k2Palette[k]},g);
      
      
    }
  });
  // axes
  const xRa = ra => 2809 + (0.70 - ra) * 3290;
  const yDec = dec => 632 + (20.0 - dec) * 218.7;
  const k2Y = v => 610 + (51 - v) * 69.7;
  for (let i = 0; i <= 10; i++) {
    const x = xRa(0.70 - i*0.005);
    const L = (i % 5 === 0) ? 10 : 6;
    const t1 = mk("line",{x1:x,y1:610,x2:x,y2:610+L,stroke:"#222","stroke-width":1});
    
    
    const t2 = mk("line",{x1:x,y1:959,x2:x,y2:959-L,stroke:"#222","stroke-width":1});
    
    
  }
  for (let i = -1; i <= 14; i++) {
    const y = yDec(20.0 - i*0.1);
    if (y < 612 || y > 957) continue;
    const L = (i % 5 === 0) ? 10 : 6;
    const t = mk("line",{x1:2799,y1:y,x2:2799+L,y2:y,stroke:"#222","stroke-width":1});
    
    
    const t2 = mk("line",{x1:3150,y1:y,x2:3150-L,y2:y,stroke:"#222","stroke-width":1});
    
    
  }
  const dl = mk("line",{x1:3035,y1:643,x2:2902,y2:959,stroke:"#fff","stroke-width":1.3,"stroke-dasharray":"6,4"});
  
  
  k2DotRa.forEach((ra,i) => {
    const c = mk("circle",{cx:xRa(ra),cy:yDec(k2DotDec[i]),r:4.5,fill:"#fff",stroke:"#000","stroke-width":1.6});
    
    
  });
  k2VelTicks.forEach(v => {
    const y = k2Y(v);
    const tk = mk("line",{x1:3160,y1:y,x2:3168,y2:y,stroke:"#222","stroke-width":1});
    
    
    const t = mk("text",{x:3178,y:y+6,"font-family":"Liberation Sans, sans-serif","font-size":16,fill:"#222"});
    t.textContent = String(v);
    
    
  });
})();

// ---------- Fig.1 bottom-right colorbar labels ----------
(function(){
  const yv = v => 618 + (41 - v) * 23.4;
  ch3cnVelTicks.forEach(v => {
    const y = yv(v);
    const tk = mk("line",{x1:2459,y1:y,x2:2465,y2:y,stroke:"#222","stroke-width":1});
    
    
    const t = mk("text",{x:2468,y:y+5,"font-family":"Liberation Sans, sans-serif","font-size":13,fill:"#111"});
    t.textContent = String(v);
    
    
  });
})();
</script>
</body>
</html>
